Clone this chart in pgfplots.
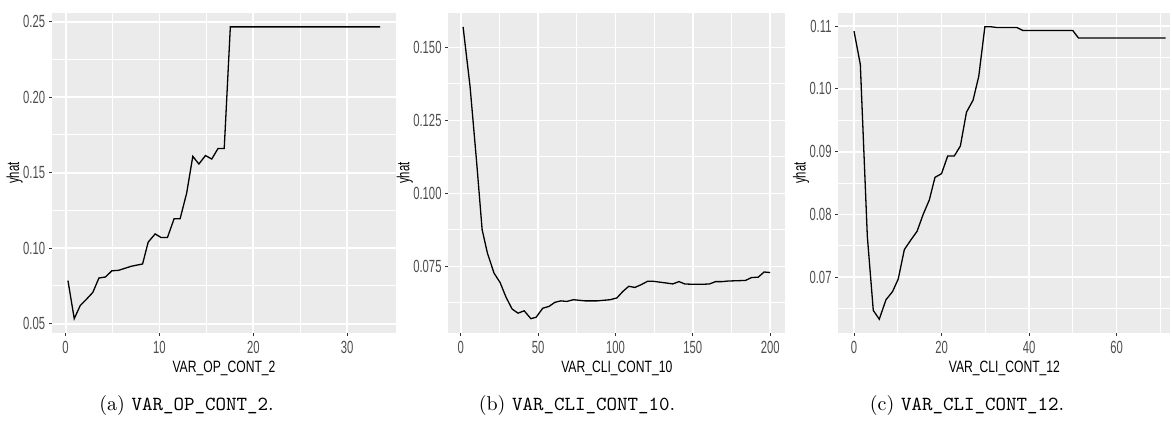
\documentclass[border=0pt]{standalone}
\usepackage{fontspec}
\usepackage{pgfplots}
\pgfplotsset{compat=1.18}
\newfontfamily\ggfont{Liberation Sans}
\definecolor{ggbg}{HTML}{EBEBEB}
\definecolor{ggtick}{HTML}{4D4D4D}
\definecolor{ggtickmark}{HTML}{333333}
\pgfplotsset{
  ggstyle/.style={
    scale only axis,
    height=160pt,
    axis background/.style={fill=ggbg},
    axis line style={draw=none},
    grid=both,
    major grid style={white, line width=0.9pt},
    minor grid style={white, line width=0.45pt},
    minor tick num=1,
    minor tick length=0pt,
    major tick length=1.5pt,
    tick align=outside,
    xtick pos=bottom, ytick pos=left,
    every tick/.style={ggtickmark, line width=0.5pt},
    tick label style={font=\ggfont\fontsize{8.8}{9}\selectfont, text=ggtick, xscale=0.64},
    /pgf/number format/assume math mode=true,
    xticklabel style={yshift=1pt},
    yticklabel style={xshift=0.5pt},
    xlabel style={font=\ggfont\fontsize{8.2}{9}\selectfont, xscale=0.74, yshift=3pt},
    ylabel style={font=\ggfont\fontsize{8.7}{9}\selectfont, xscale=0.65, yshift=-5.5pt},
    xlabel={}, ylabel={yhat},
    clip=true,
  }
}
\begin{document}
\begin{tikzpicture}
\path[use as bounding box] (0,0) rectangle (586pt,211.5pt);
% Panel (a)
\begin{axis}[ggstyle, at={(26pt,45pt)}, anchor=south west, width=172pt,
  xmin=-1.45, xmax=35.2, ymin=0.0438, ymax=0.2557,
  xtick={0,10,20,30}, xticklabels={0,10,20,30},
  ytick={0.05,0.10,0.15,0.20,0.25}, yticklabels={0.05,0.10,0.15,0.20,0.25},
  xlabel={VAR\_OP\_CONT\_2}]
\addplot[black, line width=0.65pt] coordinates {
(0.25,0.0785) (0.92,0.0533) (1.56,0.0620) (2.2,0.0660) (2.9,0.0707)
(3.55,0.0802) (4.25,0.0809) (4.93,0.0850) (5.64,0.0853) (7.0,0.0880)
(8.2,0.0895) (8.8,0.1040) (9.54,0.1094) (10.18,0.1070) (10.85,0.1070)
(11.56,0.1195) (12.2,0.1195) (12.9,0.1365) (13.55,0.1608) (14.2,0.1557)
(14.9,0.1613) (15.57,0.1590) (16.24,0.1660) (16.9,0.1660) (17.55,0.2465)
(33.5,0.2465)};
\end{axis}
% Panel (b)
\begin{axis}[ggstyle, at={(224.2pt,45pt)}, anchor=south west, width=168.4pt,
  xmin=-8, xmax=209.7, ymin=0.0522, ymax=0.1618,
  xtick={0,50,100,150,200}, xticklabels={0,50,100,150,200},
  ytick={0.075,0.100,0.125,0.150}, yticklabels={0.075,0.100,0.125,0.150},
  minor ytick={0.0625,0.0875,0.1125,0.1375},
  xlabel={VAR\_CLI\_CONT\_10}]
\addplot[black, line width=0.65pt] coordinates {
(1.5,0.1570) (6,0.1366) (10.3,0.1104) (13.8,0.0876) (17.2,0.0796)
(21.5,0.0727) (25.4,0.0695) (29.3,0.0644) (33.2,0.0604) (37,0.0590)
(41,0.0598) (45.3,0.0571) (48.7,0.0576) (53,0.0607) (57,0.0613)
(60.8,0.0627) (64.7,0.0632) (68.5,0.0630) (72.8,0.0636) (80.4,0.0632)
(88,0.0632) (96.5,0.0636) (100.9,0.0642) (104.7,0.0664) (108.6,0.0682)
(112.5,0.0678) (116.4,0.0687) (120.7,0.0699) (124.6,0.0699) (128.9,0.0696)
(133.2,0.0693) (137,0.0690) (141,0.0698) (144.8,0.0690) (149.1,0.0689)
(157,0.0689) (160.8,0.0690) (164.7,0.0698) (169,0.0698) (172.8,0.0700)
(184,0.0702) (188,0.0712) (192.2,0.0713) (196.1,0.0731) (200,0.0729)};
\end{axis}
% Panel (c)
\begin{axis}[ggstyle, at={(419.2pt,45pt)}, anchor=south west, width=166pt,
  xmin=-3.57, xmax=72.3, ymin=0.0611, ymax=0.1121,
  xtick={0,20,40,60}, xticklabels={0,20,40,60},
  minor xtick={10,30,50,70},
  ytick={0.07,0.08,0.09,0.10,0.11}, yticklabels={0.07,0.08,0.09,0.10,0.11},
  minor ytick={0.065,0.075,0.085,0.095,0.105},
  xlabel={VAR\_CLI\_CONT\_12}]
\addplot[black, line width=0.65pt] coordinates {
(0,0.1092) (1.44,0.1039) (3.04,0.0765) (4.4,0.0647) (5.77,0.0633)
(7.3,0.0664) (8.8,0.0677) (10.1,0.0697) (11.5,0.0744) (13.06,0.0760)
(14.4,0.0773) (15.8,0.0800) (17.2,0.0823) (18.5,0.0859) (20,0.0865)
(21.4,0.0893) (22.9,0.0893) (24.3,0.0909) (25.7,0.0963) (27.2,0.0982)
(28.5,0.1020) (29.9,0.1099) (31.4,0.1099) (32.5,0.1098) (37.2,0.1098)
(38.6,0.1093) (50,0.1093) (51.3,0.1081) (71.2,0.1081)};
\end{axis}
% captions
\node[anchor=base, font=\fontsize{10}{12}\selectfont] at (93.25pt,6.5pt) {(a) \texttt{VAR\_OP\_CONT\_2}.};
\node[anchor=base, font=\fontsize{10}{12}\selectfont] at (288.5pt,6.5pt) {(b) \texttt{VAR\_CLI\_CONT\_10}.};
\node[anchor=base, font=\fontsize{10}{12}\selectfont] at (483.5pt,6.5pt) {(c) \texttt{VAR\_CLI\_CONT\_12}.};
\end{tikzpicture}
\end{document}
